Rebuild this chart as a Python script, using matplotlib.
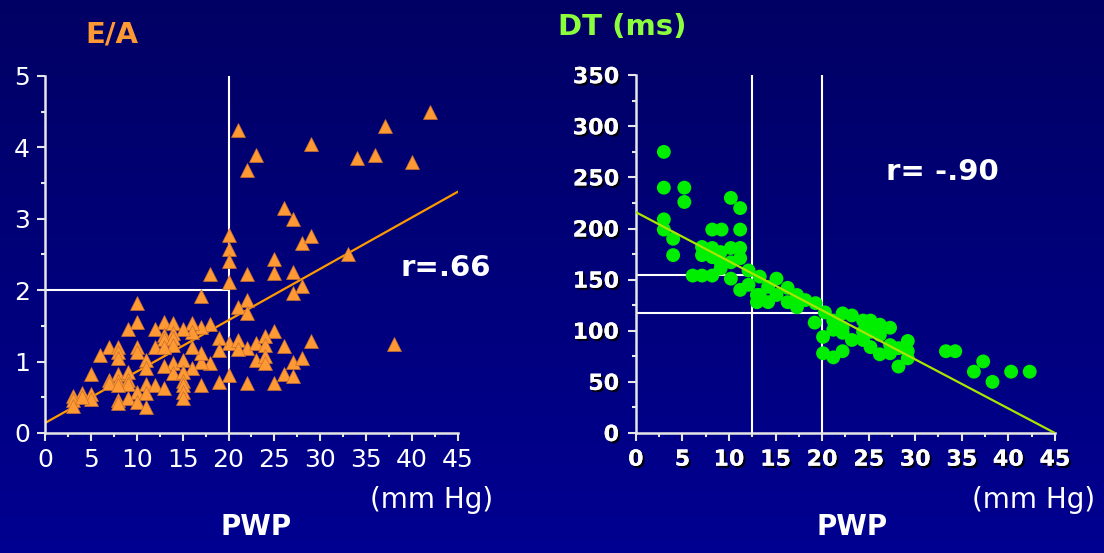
import numpy as np
import matplotlib.pyplot as plt
import matplotlib.patheffects as pe
from matplotlib.ticker import MultipleLocator

# E/A vs PWP (left panel)
ea_pwp = [21, 23, 22, 29, 26, 27, 28, 29, 33, 34, 36, 37, 40, 42, 38,
          20, 20, 20, 20, 20, 20,
          25, 18, 22, 25, 27, 28, 27, 17, 22, 21, 22, 29, 25,
          19, 21, 22, 19, 23, 24, 24, 26, 21, 23, 24, 24, 27, 28, 19, 22, 26, 27, 25,
          17, 18, 17, 17, 18, 17, 16, 16, 16, 16,
          10, 10, 9, 13, 14, 15, 12, 13, 14, 13, 14, 14, 12, 13, 7, 8, 10, 10, 8, 6,
          8, 11, 14, 15, 11, 13, 5, 8, 9, 14, 15, 7, 8, 9, 15, 9, 7, 8, 11, 12, 13,
          15, 10, 11, 15, 15, 8, 9, 4, 3, 5, 5, 3, 3, 4, 10, 11, 8]
ea_ratio = [4.25, 3.9, 3.68, 4.05, 3.15, 3.0, 2.66, 2.76, 2.5, 3.85, 3.9, 4.3, 3.8, 4.5, 1.25,
            2.77, 2.58, 2.41, 2.12, 1.26, 0.81,
            2.44, 2.23, 2.23, 2.24, 2.26, 2.06, 1.96, 1.92, 1.86, 1.76, 1.68, 1.29, 1.43,
            1.33, 1.3, 1.19, 1.16, 1.26, 1.36, 1.23, 1.22, 1.18, 1.02, 1.08, 0.98, 1.0, 1.05,
            0.71, 0.7, 0.83, 0.8, 0.7,
            0.67, 0.98, 1.0, 1.12, 1.53, 1.49, 1.54, 1.42, 1.21, 0.91,
            1.82, 1.56, 1.46, 1.56, 1.54, 1.46, 1.46, 1.37, 1.40, 1.32, 1.33, 1.23, 1.20,
            1.20, 1.20, 1.20, 1.2, 1.13, 1.13, 1.09,
            1.05, 1.02, 0.98, 1.02, 0.91, 0.94, 0.82, 0.82, 0.85, 0.84, 0.85, 0.74, 0.73,
            0.74, 0.73, 0.68, 0.70, 0.67, 0.69, 0.67, 0.63,
            0.67, 0.57, 0.56, 0.57, 0.49, 0.46, 0.49, 0.56, 0.52, 0.55, 0.48, 0.46, 0.38,
            0.5, 0.43, 0.36, 0.42]
ea_fit_x = [0, 45]
ea_fit_y = [0.14, 3.38]

# DT vs PWP (right panel)
dt_pwp = [3, 3, 5.2, 5.2, 3, 3, 4, 4, 10.2, 11.2, 8.2, 9.2, 11.2, 7.1, 7.1, 8.2, 8.2,
          9.1, 9.1, 10.2, 11.2, 10.2, 11.2, 9.1, 10.2, 11.2, 12.1, 12.1, 6.1, 7.1, 8.2,
          13, 13, 13.3, 15.1, 14.2, 13.3, 14.2, 15.1, 16.3, 16.3, 17.3, 17.3, 18.2, 19.3,
          20.3, 19.2, 20.1, 21.2, 21.2, 20.1, 21.2, 22.2, 22.2, 22.2, 22.2, 23.2, 23.2,
          24.4, 24.4, 24.4, 25.2, 25.2, 25.2, 26.2, 26.2, 26.2, 27.3, 27.3, 27.3, 28.2,
          29.2, 29.2, 28.2, 29.2, 33.3, 34.3, 37.3, 36.3, 38.3, 40.3, 42.3]
dt_ms = [275, 240, 240, 226, 209, 199, 190, 174, 230, 220, 199, 199, 199, 182, 174, 181, 172,
         177, 167, 181, 181, 167, 171, 161, 151, 140, 159, 145, 154, 154, 154,
         135, 128, 153, 151, 143, 135, 128, 135, 142, 128, 135, 123, 130, 127,
         118, 108, 94, 110, 101, 78, 74, 117, 103, 98, 80, 115, 91,
         110, 99, 91, 110, 99, 84, 106, 96, 77, 103, 86, 78, 83,
         90, 73, 65, 80, 80, 80, 70, 60, 50, 60, 60]
dt_fit_x = [0, 45]
dt_fit_y = [216, 0]

fig = plt.figure(figsize=(11.04, 5.53), dpi=100)

# navy gradient background
bg = fig.add_axes([0, 0, 1, 1], zorder=-10)
grad = np.linspace(0, 1, 256).reshape(-1, 1)
top = np.array([0, 0, 100]) / 255
bot = np.array([0, 0, 145]) / 255
img = top + (bot - top) * grad[:, :, None]
bg.imshow(img, aspect='auto', extent=[0, 1, 0, 1])
bg.axis('off')

axis_col = '#e6e6e6'


def style_axes(ax):
    ax.set_facecolor('none')
    for s in ['top', 'right']:
        ax.spines[s].set_visible(False)
    for s in ['left', 'bottom']:
        ax.spines[s].set_color(axis_col)
        ax.spines[s].set_linewidth(1.8)
    ax.tick_params(which='both', colors=axis_col, direction='out', width=1.5)
    ax.tick_params(which='major', length=6)
    ax.tick_params(which='minor', length=3)


# left panel
ax1 = fig.add_axes([0.0408, 0.217, 0.374, 0.6456])
style_axes(ax1)
ax1.set_xlim(0, 45)
ax1.set_ylim(0, 5)
ax1.xaxis.set_major_locator(MultipleLocator(5))
ax1.xaxis.set_minor_locator(MultipleLocator(2.5))
ax1.yaxis.set_major_locator(MultipleLocator(1))
ax1.yaxis.set_minor_locator(MultipleLocator(0.5))
ax1.tick_params(axis='both', which='major', labelsize=18, labelcolor='white', pad=5)
ax1.plot([20, 20], [0, 5], color='white', lw=1.5, zorder=1)
ax1.plot([0, 20], [2, 2], color='white', lw=1.5, zorder=1)
ax1.plot(ea_fit_x, ea_fit_y, color='#ff9900', lw=1.6, zorder=2)
ax1.plot(ea_pwp, ea_ratio, linestyle='none', marker='^', ms=10,
         color='#ff9933', mec='#c87030', mew=0.5, zorder=3, clip_on=False)

# right panel
ax2 = fig.add_axes([0.576, 0.217, 0.3795, 0.647])
style_axes(ax2)
ax2.set_xlim(0, 45)
ax2.set_ylim(0, 350)
ax2.xaxis.set_major_locator(MultipleLocator(5))
ax2.xaxis.set_minor_locator(MultipleLocator(2.5))
ax2.yaxis.set_major_locator(MultipleLocator(50))
ax2.yaxis.set_minor_locator(MultipleLocator(25))
ax2.tick_params(axis='both', which='major', labelsize=16, labelcolor='white', pad=6)
shadow = [pe.withSimplePatchShadow(offset=(1.5, -1.5), shadow_rgbFace='black', alpha=0.9),
          pe.Normal()]
for lab in ax2.get_xticklabels() + ax2.get_yticklabels():
    lab.set_fontweight('bold')
    lab.set_path_effects(shadow)
ax2.plot([12.5, 12.5], [0, 350], color='white', lw=1.5, zorder=1)
ax2.plot([20, 20], [0, 350], color='white', lw=1.5, zorder=1)
ax2.plot([0, 12.5], [155, 155], color='white', lw=1.5, zorder=1)
ax2.plot([0, 20], [117, 117], color='white', lw=1.5, zorder=1)
ax2.scatter(dt_pwp, dt_ms, s=100, color='#00ee00', edgecolors='none', zorder=2)
ax2.plot(dt_fit_x, dt_fit_y, color='#a6e600', lw=1.6, zorder=3)

# titles and annotations
fig.text(0.1014, 0.937, 'E/A', color='#ff9933', fontsize=21, fontweight='bold',
         ha='center', va='center')
fig.text(0.5634, 0.951, 'DT (ms)', color='#8cff3c', fontsize=21, fontweight='bold',
         ha='center', va='center')
fig.text(0.404, 0.515, 'r=.66', color='white', fontsize=21, fontweight='bold',
         ha='center', va='center')
fig.text(0.854, 0.689, 'r= -.90', color='white', fontsize=21, fontweight='bold',
         ha='center', va='center')
fig.text(0.391, 0.096, '(mm Hg)', color='white', fontsize=20, ha='center', va='center')
fig.text(0.9366, 0.096, '(mm Hg)', color='white', fontsize=20, ha='center', va='center')
fig.text(0.2319, 0.047, 'PWP', color='white', fontsize=20, fontweight='bold',
         ha='center', va='center')
fig.text(0.7717, 0.047, 'PWP', color='white', fontsize=20, fontweight='bold',
         ha='center', va='center')

fig.savefig('out.png', dpi=100, facecolor='#000080')
